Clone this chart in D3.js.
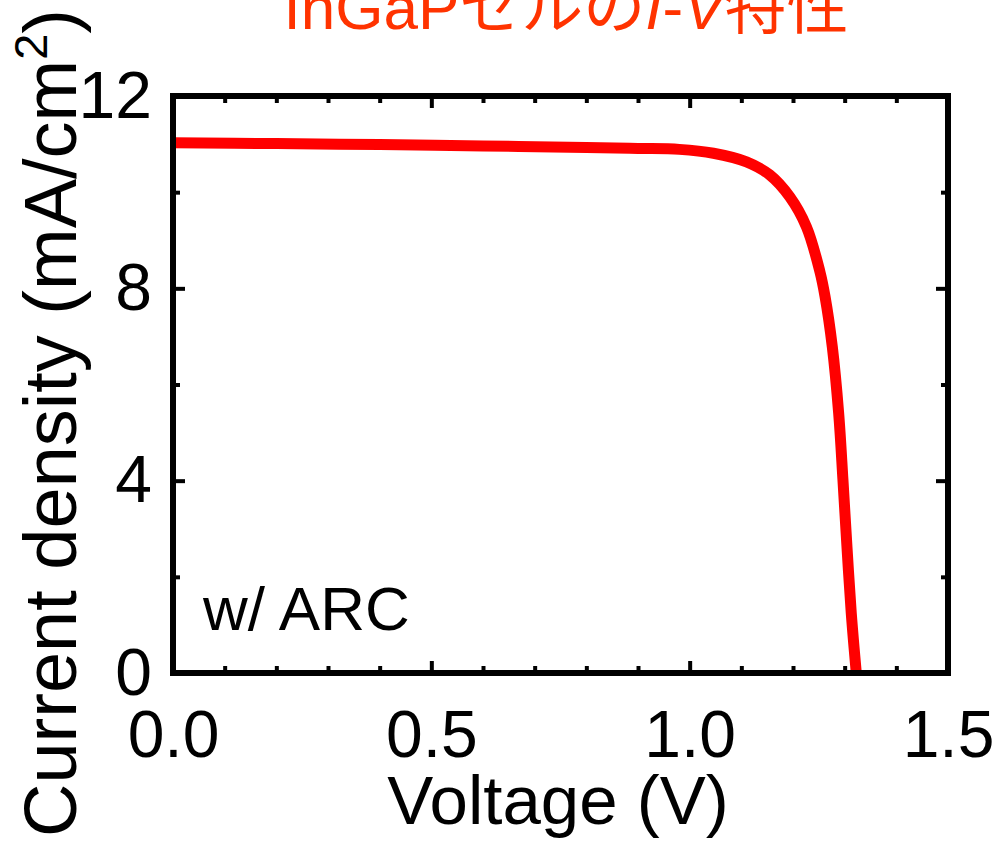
<!DOCTYPE html>
<html><head><meta charset="utf-8">
<script src="https://cdn.jsdelivr.net/npm/d3@7"></script>
<style>
html,body{margin:0;padding:0;background:#fff;}
text{font-family:"Liberation Sans",Arial,"Noto Sans CJK JP",sans-serif;}
</style></head>
<body>
<svg id="c" width="996" height="842"></svg>
<script>
// ---- data ----
const voltage = [0, 0.2, 0.4, 0.6, 0.8, 0.9, 0.98, 1.046, 1.11, 1.155, 1.194, 1.226, 1.252, 1.262, 1.276, 1.2884, 1.2967, 1.3044, 1.3128, 1.3225];
const current = [11.03, 11.01, 10.99, 10.96, 10.93, 10.91, 10.89, 10.81, 10.63, 10.36, 9.90, 9.28, 8.35, 7.83, 6.79, 5.40, 4.01, 2.63, 1.24, 0];
const xMajorTicks = [0, 0.5, 1.0, 1.5];
const xMinorTicks = [0.1,0.2,0.3,0.4,0.6,0.7,0.8,0.9,1.1,1.2,1.3,1.4];
const yMajorTicks = [0, 4, 8, 12];
const yMinorTicks = [2, 6, 10];
const xTickLabels = ["0.0", "0.5", "1.0", "1.5"];
const yTickLabels = ["0", "4", "8", "12"];

const svg = d3.select("#c");
const L = 173, R = 948, T = 96, B = 673;
const x = d3.scaleLinear().domain([0, 1.5]).range([L, R]);
const y = d3.scaleLinear().domain([0, 12]).range([B, T]);

// title
const title = svg.append("text").attr("x", 566).attr("y", 29).attr("text-anchor", "middle")
  .attr("font-size", 62).attr("fill", "#ff3300");
title.append("tspan").text("InGaPセルの");
title.append("tspan").attr("font-style", "italic").text("I");
title.append("tspan").text("-");
title.append("tspan").attr("font-style", "italic").text("V");
title.append("tspan").text("特性");

// curve
const data = voltage.map((v, i) => [v, current[i]]);
svg.append("path").datum(data)
  .attr("fill", "none").attr("stroke", "#ff0000").attr("stroke-width", 11)
  .attr("stroke-linejoin", "round")
  .attr("d", d3.line().x(d => x(d[0])).y(d => y(d[1])).curve(d3.curveCatmullRom.alpha(0.5)));

function styleAxis(g) {
  g.select(".domain").remove();
  g.selectAll(".tick line").attr("stroke", "#000").attr("stroke-width", 4);
  g.selectAll(".tick text").attr("font-size", 66).attr("fill", "#000")
    .style("font-family", '"Liberation Sans", Arial, sans-serif');
}
const fmtX = (d) => xTickLabels[xMajorTicks.indexOf(d)];
const fmtY = (d) => yTickLabels[yMajorTicks.indexOf(d)];

// bottom
svg.append("g").attr("transform", `translate(0,${B})`)
  .call(d3.axisBottom(x).tickValues(xMinorTicks).tickSize(-7).tickFormat("")).call(styleAxis);
svg.append("g").attr("transform", `translate(0,${B})`)
  .call(d3.axisBottom(x).tickValues(xMajorTicks).tickSize(-12).tickPadding(37).tickFormat(fmtX)).call(styleAxis);
// top
svg.append("g").attr("transform", `translate(0,${T})`)
  .call(d3.axisTop(x).tickValues(xMinorTicks).tickSize(-7).tickFormat("")).call(styleAxis);
svg.append("g").attr("transform", `translate(0,${T})`)
  .call(d3.axisTop(x).tickValues(xMajorTicks).tickSize(-12).tickFormat("")).call(styleAxis);
// left
svg.append("g").attr("transform", `translate(${L},0)`)
  .call(d3.axisLeft(y).tickValues(yMinorTicks).tickSize(-7).tickFormat("")).call(styleAxis);
svg.append("g").attr("transform", `translate(${L},0)`)
  .call(d3.axisLeft(y).tickValues(yMajorTicks).tickSize(-12).tickPadding(21).tickFormat(fmtY)).call(styleAxis);
// right
svg.append("g").attr("transform", `translate(${R},0)`)
  .call(d3.axisRight(y).tickValues(yMinorTicks).tickSize(-7).tickFormat("")).call(styleAxis);
svg.append("g").attr("transform", `translate(${R},0)`)
  .call(d3.axisRight(y).tickValues(yMajorTicks).tickSize(-12).tickFormat("")).call(styleAxis);

// frame
svg.append("rect").attr("x", L).attr("y", T).attr("width", R - L).attr("height", B - T)
  .attr("fill", "none").attr("stroke", "#000").attr("stroke-width", 6);

// annotation
svg.append("text").attr("x", 203).attr("y", 630).attr("font-size", 62).attr("fill", "#000").text("w/ ARC");

// x label
svg.append("text").attr("x", 558).attr("y", 824).attr("text-anchor", "middle")
  .attr("font-size", 69).attr("fill", "#000").text("Voltage (V)");

// y label
const yl = svg.append("text").attr("transform", "translate(76,423) rotate(-90)")
  .attr("text-anchor", "middle").attr("font-size", 74).attr("fill", "#000");
yl.append("tspan").text("Current density (mA/cm");
yl.append("tspan").attr("font-size", 47).attr("dy", -29).text("2");
yl.append("tspan").attr("dy", 29).text(")");
</script>
</body></html>
